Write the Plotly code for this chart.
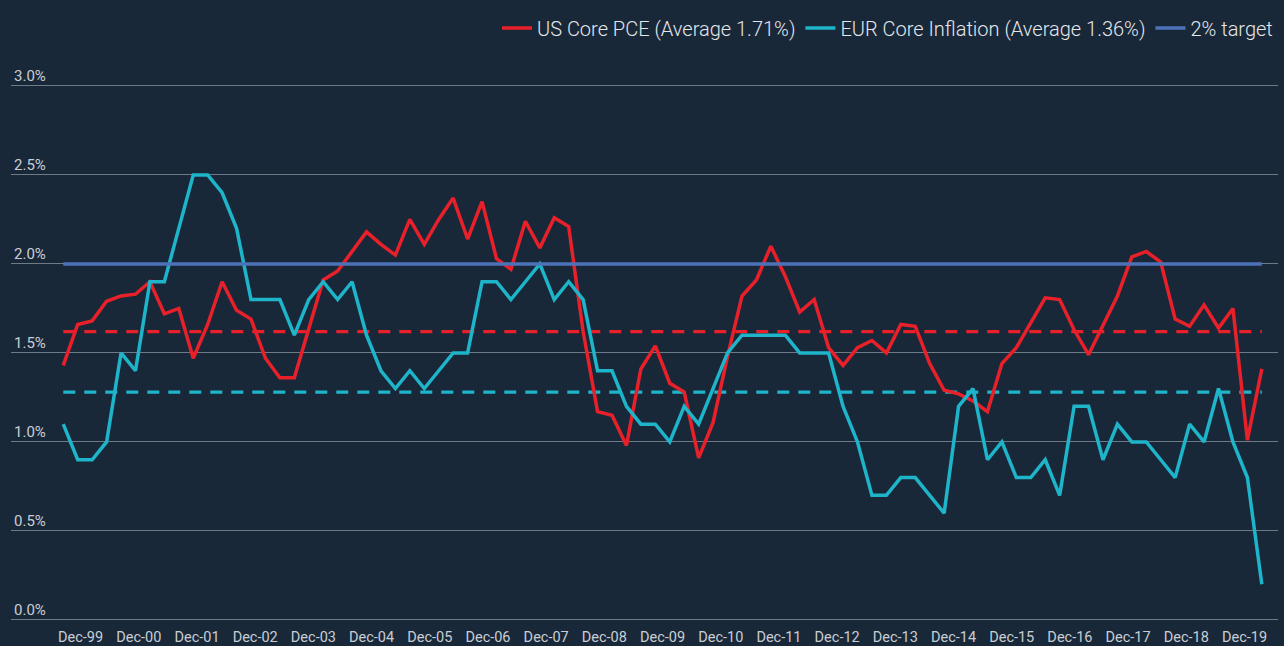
import plotly.graph_objects as go

# Quarterly observations, Sep-99 .. Jun-20 (84 quarters)
us_core_pce = [1.43, 1.66, 1.68, 1.79, 1.82, 1.83, 1.90, 1.72, 1.75, 1.47,
               1.66, 1.90, 1.74, 1.69, 1.47, 1.36, 1.36, 1.63, 1.91, 1.96,
               2.07, 2.18, 2.11, 2.05, 2.25, 2.11, 2.25, 2.37, 2.14, 2.35,
               2.03, 1.97, 2.24, 2.09, 2.26, 2.21, 1.62, 1.17, 1.15, 0.98,
               1.41, 1.54, 1.33, 1.28, 0.91, 1.11, 1.48, 1.82, 1.91, 2.10,
               1.93, 1.73, 1.80, 1.53, 1.43, 1.53, 1.57, 1.50, 1.66, 1.65,
               1.44, 1.29, 1.27, 1.23, 1.17, 1.44, 1.53, 1.67, 1.81, 1.80,
               1.63, 1.49, 1.65, 1.82, 2.04, 2.07, 2.01, 1.69, 1.65, 1.77,
               1.64, 1.75, 1.01, 1.41]

eur_core_infl = [1.1, 0.9, 0.9, 1.0, 1.5, 1.4, 1.9, 1.9, 2.2, 2.5,
                 2.5, 2.4, 2.2, 1.8, 1.8, 1.8, 1.6, 1.8, 1.9, 1.8,
                 1.9, 1.6, 1.4, 1.3, 1.4, 1.3, 1.4, 1.5, 1.5, 1.9,
                 1.9, 1.8, 1.9, 2.0, 1.8, 1.9, 1.8, 1.4, 1.4, 1.2,
                 1.1, 1.1, 1.0, 1.2, 1.1, 1.3, 1.5, 1.6, 1.6, 1.6,
                 1.6, 1.5, 1.5, 1.5, 1.2, 1.0, 0.7, 0.7, 0.8, 0.8,
                 0.7, 0.6, 1.2, 1.3, 0.9, 1.0, 0.8, 0.8, 0.9, 0.7,
                 1.2, 1.2, 0.9, 1.1, 1.0, 1.0, 0.9, 0.8, 1.1, 1.0,
                 1.3, 1.0, 0.8, 0.2]

us_avg_line = 1.62
eur_avg_line = 1.28
target = 2.0

tick_labels = ["Dec-99", "Dec-00", "Dec-01", "Dec-02", "Dec-03", "Dec-04", "Dec-05",
               "Dec-06", "Dec-07", "Dec-08", "Dec-09", "Dec-10", "Dec-11", "Dec-12",
               "Dec-13", "Dec-14", "Dec-15", "Dec-16", "Dec-17", "Dec-18", "Dec-19"]
y_ticks = [0.0, 0.5, 1.0, 1.5, 2.0, 2.5, 3.0]

names = ["US Core PCE (Average 1.71%)", "EUR Core Inflation (Average 1.36%)", "2% target"]

RED = "#E8202A"
TEAL = "#1EB4C9"
BLUE = "#4D72B8"
BG = "#192839"
GRID = "#6f7a87"
TXT = "#c9ced4"

n = len(us_core_pce)
x = list(range(n))

fig = go.Figure()
fig.add_trace(go.Scatter(x=x, y=[us_avg_line] * n, mode="lines", showlegend=False,
                         line=dict(color=RED, width=3.2, dash="12px,9px"), hoverinfo="skip"))
fig.add_trace(go.Scatter(x=x, y=[eur_avg_line] * n, mode="lines", showlegend=False,
                         line=dict(color=TEAL, width=3.2, dash="12px,9px"), hoverinfo="skip"))
fig.add_trace(go.Scatter(x=x, y=us_core_pce, mode="lines", name=names[0],
                         line=dict(color=RED, width=3.5)))
fig.add_trace(go.Scatter(x=x, y=eur_core_infl, mode="lines", name=names[1],
                         line=dict(color=TEAL, width=3.5)))
fig.add_trace(go.Scatter(x=x, y=[target] * n, mode="lines", name=names[2],
                         line=dict(color=BLUE, width=3.5)))

tickvals = [1.2 + 4.03 * k for k in range(len(tick_labels))]

fig.update_layout(
    width=1284, height=646,
    paper_bgcolor=BG, plot_bgcolor=BG,
    margin=dict(l=11, r=6, t=66, b=20, autoexpand=False),
    font=dict(family="Roboto, sans-serif", color=TXT),
    legend=dict(orientation="h", x=1.0, xanchor="right", y=1.068, yanchor="middle",
                font=dict(family="Roboto", size=20, color="#e4e7ea", weight=300),
                itemwidth=30, bgcolor="rgba(0,0,0,0)", traceorder="normal"),
    xaxis=dict(range=[-3.62, 84.12], tickvals=tickvals, ticktext=tick_labels,
               showgrid=False, zeroline=False, showline=False, ticks="", automargin=False,
               tickfont=dict(size=14.5, color=TXT)),
    yaxis=dict(range=[-0.034, 3.112], tickvals=y_ticks,
               ticktext=[f"{v:.1f}%" for v in y_ticks],
               ticklabelposition="inside top", showgrid=True, gridcolor=GRID, gridwidth=1,
               zeroline=False, showline=False, ticks="", automargin=False,
               tickfont=dict(size=15, color=TXT)),
)

fig.write_html(
    "out.html",
    config={"displayModeBar": False},
    post_script="document.body.style.margin='0';document.body.style.background='%s';" % BG,
)
